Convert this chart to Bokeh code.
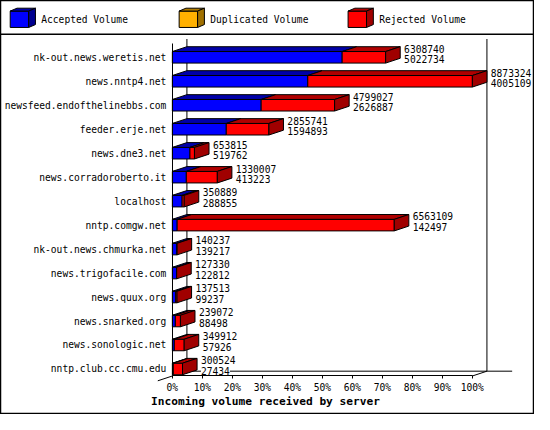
from bokeh.plotting import figure
from bokeh.models import Range1d, LinearAxis, FixedTicker, PrintfTickFormatter
from bokeh.embed import file_html
from bokeh.resources import INLINE
from bokeh.core.properties import value

# ---------------- data ----------------
hosts = ["nk-out.news.weretis.net", "news.nntp4.net", "newsfeed.endofthelinebbs.com",
         "feeder.erje.net", "news.dne3.net", "news.corradoroberto.it", "localhost",
         "nntp.comgw.net", "nk-out.news.chmurka.net", "news.trigofacile.com",
         "news.quux.org", "news.snarked.org", "news.sonologic.net", "nntp.club.cc.cmu.edu"]
total_volume = [6308740, 8873324, 4799027, 2855741, 653815, 1330007, 350889,
                6563109, 140237, 127330, 137513, 239072, 349912, 300524]
accepted_volume = [5022734, 4005109, 2626887, 1594893, 519762, 413223, 288855,
                   142497, 139217, 122812, 99237, 88498, 57926, 27434]
duplicated_volume = [0, 0, 0, 0, 0, 0, 0, 0, 0, 0, 0, 0, 0, 0]
series_names = ["Accepted Volume", "Duplicated Volume", "Rejected Volume"]
x_ticks = [0, 10, 20, 30, 40, 50, 60, 70, 80, 90, 100]
x_title = "Incoming volume received by server"

# ---------------- style / layout ----------------
W, H = 534, 414          # figure size (the 550x430 design is scaled into it)
REF_W, REF_H = 550, 430  # design canvas
X0_REF = 177.0           # design pixel of 0 %
PCT_PX = 3.09            # design pixels per percent
ROW0_REF = 59.0          # design pixel of first row centre
ROW_PX = 24.9            # design pixels per row
N = len(hosts)
FONT = "DejaVu Sans Mono"
FS = "9.6px"
COL_FRONT = ["#0000ff", "#ffb000", "#ff0000"]
COL_TOP = ["#0000a8", "#b07c00", "#b00000"]
COL_SIDE = ["#000090", "#a07000", "#a00000"]


def rx(px):
    return (px - X0_REF) / PCT_PX


def ry(py):
    return (N - 1) - (py - ROW0_REF) / ROW_PX


def dxp(px):
    return px / PCT_PX


def dyp(px):
    return px / ROW_PX


BAR_H = dyp(6)
DEPTH_X = dxp(15)
DEPTH_Y = dyp(5)

p = figure(width=W, height=H, output_backend="svg", toolbar_location=None,
           x_axis_type=None, y_axis_type=None, min_border=0,
           x_range=Range1d(rx(0), rx(REF_W)),
           y_range=Range1d(ry(REF_H), ry(0)))
p.grid.visible = False
p.outline_line_color = "black"
p.outline_line_width = 1.5
p.background_fill_color = "white"
p.border_fill_color = "white"

y_floor = ry(390)
y_top_front = ry(45)

# legend separator
p.segment(x0=[rx(0)], y0=[ry(35)], x1=[rx(REF_W)], y1=[ry(35)], line_color="black", line_width=1.5)

# back wall and floor
wall_x0 = [0 + DEPTH_X, 100 + DEPTH_X, 0 + DEPTH_X, 100, 0 - DEPTH_X]
wall_y0 = [y_top_front + DEPTH_Y, y_top_front + DEPTH_Y, y_floor + DEPTH_Y, y_floor, y_floor - DEPTH_Y]
wall_x1 = [0 + DEPTH_X, 100 + DEPTH_X, 100 + DEPTH_X + dxp(26), 100 + DEPTH_X, 0]
wall_y1 = [y_floor + DEPTH_Y, y_floor + DEPTH_Y, y_floor + DEPTH_Y, y_floor + DEPTH_Y, y_floor]
p.segment(x0=wall_x0, y0=wall_y0, x1=wall_x1, y1=wall_y1, line_color="black", line_width=1)

# bars
vmax = max(total_volume)
front = dict(left=[], right=[], bottom=[], top=[], color=[])
tops = dict(xs=[], ys=[], color=[])
sides = dict(xs=[], ys=[], color=[])
lab = dict(x=[], y=[], text=[])
for k in range(N):
    y = N - 1 - k
    acc = accepted_volume[k] / vmax * 100
    dup = duplicated_volume[k] / vmax * 100
    tot = total_volume[k] / vmax * 100
    segs = [(0, acc, 0), (acc, acc + dup, 1), (acc + dup, tot, 2)]
    segs = [s for s in segs if s[1] - s[0] > 1e-9]
    for i, (a, b, c) in enumerate(segs):
        front["left"].append(a)
        front["right"].append(b)
        front["bottom"].append(y - BAR_H)
        front["top"].append(y + BAR_H)
        front["color"].append(COL_FRONT[c])
        tops["xs"].append([a, b, b + DEPTH_X, a + DEPTH_X])
        tops["ys"].append([y + BAR_H, y + BAR_H, y + BAR_H + DEPTH_Y, y + BAR_H + DEPTH_Y])
        tops["color"].append(COL_TOP[c])
        if i == len(segs) - 1:
            sides["xs"].append([b, b + DEPTH_X, b + DEPTH_X, b])
            sides["ys"].append([y + BAR_H, y + BAR_H + DEPTH_Y, y - BAR_H + DEPTH_Y, y - BAR_H])
            sides["color"].append(COL_SIDE[c])
    lx = tot + DEPTH_X + dxp(4)
    lab["x"] += [lx, lx]
    lab["y"] += [y + dyp(9), y - dyp(2)]
    lab["text"] += [str(total_volume[k]), str(accepted_volume[k])]

p.quad(left="left", right="right", bottom="bottom", top="top", fill_color="color",
       line_color="black", line_width=1, source=front)
p.patches(xs="xs", ys="ys", fill_color="color", line_color="black", line_width=1, source=tops)
p.patches(xs="xs", ys="ys", fill_color="color", line_color="black", line_width=1, source=sides)

p.text(x="x", y="y", text="text", source=lab, text_font=value(FONT), text_font_size=FS,
       text_baseline="middle", text_align="left", text_color="black",
       background_fill_color="white")

# axes
xaxis = LinearAxis(fixed_location=y_floor, ticker=FixedTicker(ticks=x_ticks),
                   formatter=PrintfTickFormatter(format="%d%%"), bounds=(0, 100))
xaxis.major_tick_in = 0
xaxis.major_tick_out = 3
xaxis.minor_tick_in = 0
xaxis.minor_tick_out = 0
xaxis.major_label_standoff = 3
xaxis.major_label_text_font = FONT
xaxis.major_label_text_font_size = FS
xaxis.major_label_text_color = "black"
xaxis.axis_line_color = "black"
p.add_layout(xaxis, "below")

yaxis = LinearAxis(fixed_location=0, ticker=FixedTicker(ticks=list(range(N))),
                   major_label_overrides={N - 1 - k: hosts[k] for k in range(N)},
                   bounds=(y_floor, y_top_front))
yaxis.major_tick_in = 0
yaxis.major_tick_out = 0
yaxis.minor_tick_in = 0
yaxis.minor_tick_out = 0
yaxis.major_label_standoff = 6
yaxis.major_label_text_font = FONT
yaxis.major_label_text_font_size = FS
yaxis.major_label_text_color = "black"
yaxis.axis_line_color = "black"
p.add_layout(yaxis, "left")

# axis title
p.text(x=[rx(155)], y=[ry(417)], text=[x_title], text_font=value(FONT),
       text_font_size="11.2px", text_font_style="bold", text_baseline="middle",
       text_align="left", text_color="black")

# legend (3D cubes)
leg_front_x = [10, 184, 358]
leg_text_x = [42, 216, 390]
lf = dict(left=[], right=[], bottom=[], top=[], color=[])
lt = dict(xs=[], ys=[], color=[])
ls = dict(xs=[], ys=[], color=[])
for i in range(3):
    a, b = rx(leg_front_x[i]), rx(leg_front_x[i] + 19)
    t, bt = ry(11), ry(28)
    ddx, ddy = dxp(7), dyp(3)
    lf["left"].append(a); lf["right"].append(b)
    lf["bottom"].append(bt); lf["top"].append(t)
    lf["color"].append(COL_FRONT[i])
    lt["xs"].append([a, b, b + ddx, a + ddx])
    lt["ys"].append([t, t, t + ddy, t + ddy])
    lt["color"].append(COL_TOP[i])
    ls["xs"].append([b, b + ddx, b + ddx, b])
    ls["ys"].append([t, t + ddy, bt + ddy, bt])
    ls["color"].append(COL_SIDE[i])
p.quad(left="left", right="right", bottom="bottom", top="top", fill_color="color",
       line_color="black", line_width=1, source=lf)
p.patches(xs="xs", ys="ys", fill_color="color", line_color="black", line_width=1, source=lt)
p.patches(xs="xs", ys="ys", fill_color="color", line_color="black", line_width=1, source=ls)
p.text(x=[rx(v) for v in leg_text_x], y=[ry(20)] * 3, text=series_names,
       text_font=value(FONT), text_font_size=FS, text_baseline="middle",
       text_align="left", text_color="black")

open("out.html", "w").write(file_html(p, INLINE))
